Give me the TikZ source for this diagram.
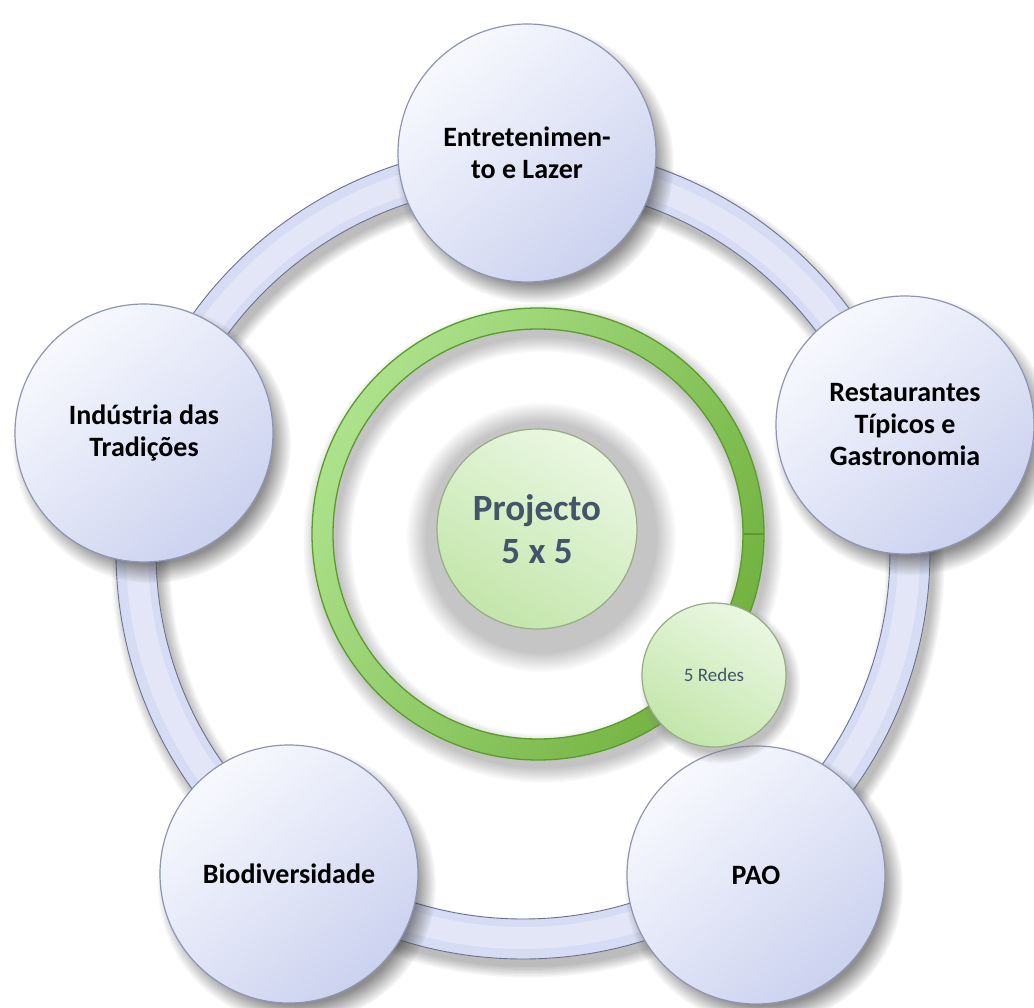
\documentclass[tikz,border=0pt]{standalone}
\usepackage{fontspec}
\setmainfont{Carlito}
\usetikzlibrary{shadows,calc}
\definecolor{lavL}{HTML}{F8F9FE}
\definecolor{lavD}{HTML}{CBD2EF}
\definecolor{lavB}{HTML}{8E95B2}
\definecolor{bandC}{HTML}{D6DCF3}
\definecolor{bandB}{HTML}{6B7290}
\definecolor{grL}{HTML}{ADE28C}
\definecolor{grD}{HTML}{72B23F}
\definecolor{grB}{HTML}{5A9C2A}
\definecolor{lgL}{HTML}{EAF7E2}
\definecolor{lgD}{HTML}{C3E6AA}
\definecolor{lgB}{HTML}{96AC86}
\definecolor{txtC}{HTML}{44546A}
\tikzset{
  outerc/.style={circle, minimum size=258pt, inner sep=0pt, draw=lavB, line width=1.2pt,
    top color=lavL, bottom color=lavD, shading angle=40, align=center,
    font=\bfseries\fontsize{28}{32}\selectfont, text=black,
    circular drop shadow={shadow xshift=7pt, shadow yshift=-10pt, opacity=0.55, fill=black!80, shadow scale=1.08}},
  innerc/.style={circle, inner sep=0pt, draw=lgB, line width=1.2pt,
    top color=lgL, bottom color=lgD, shading angle=-30, align=center, text=txtC},
}
\begin{document}
\begin{tikzpicture}[x=1pt,y=-1pt]
\useasboundingbox (0,0) rectangle (1034,1008);
\fill[white] (0,0) rectangle (1034,1008);
\coordinate (rc) at (523,552);
\coordinate (gc) at (538,534);
% band shadow
\foreach \k in {0,...,7}{
  \pgfmathsetmacro{\lw}{38+3*\k}
  \draw[black, opacity=0.035, line width=\lw pt] ($(rc)+(5,9)$) circle[radius=387pt];
}
% band
\draw[bandC, line width=40pt] (rc) circle[radius=387pt];
\draw[white, opacity=0.3, line width=22pt] (rc) circle[radius=386pt];
\draw[bandB, line width=0.9pt] (rc) circle[radius=367pt] (rc) circle[radius=407pt];
% green ring shadow
\foreach \k in {0,...,7}{
  \pgfmathsetmacro{\lw}{20+4*\k}
  \draw[black, opacity=0.03, line width=\lw pt] ($(gc)+(5,9)$) circle[radius=215.5pt];
}
% green ring
\shade[even odd rule, top color=grL, bottom color=grD, shading angle=60]
  (gc) circle[radius=226pt] (gc) circle[radius=205pt];
\draw[grB, line width=1.3pt] (gc) circle[radius=226pt] (gc) circle[radius=205pt];
\draw[grB, line width=1.6pt] ($(gc)+(205,0)$) -- ($(gc)+(226,0)$);
% outer circles
\node[outerc] (ent) at (527,153) {Entretenimen-\\to e Lazer};
\node[outerc] (ind) at (144,433) {Indústria das\\Tradições};
\node[outerc] (res) at (905,425) {Restaurantes\\Típicos e\\Gastronomia};
\node[outerc] (bio) at (289,874) {Biodiversidade};
\node[outerc] (pao) at (756,875) {PAO};
% center
\node[innerc, minimum size=200pt, font=\bfseries\fontsize{37}{43}\selectfont,
  circular drop shadow={shadow xshift=3pt, shadow yshift=-6pt, opacity=0.45, shadow scale=1.35}]
  (proj) at (537,529) {Projecto\\5 x 5};
\node[innerc, minimum size=144pt, font=\fontsize{19}{22}\selectfont,
  circular drop shadow={shadow xshift=5pt, shadow yshift=-7pt, opacity=0.5, shadow scale=1.12}]
  (redes) at (714,675) {5 Redes};
\end{tikzpicture}
\end{document}
